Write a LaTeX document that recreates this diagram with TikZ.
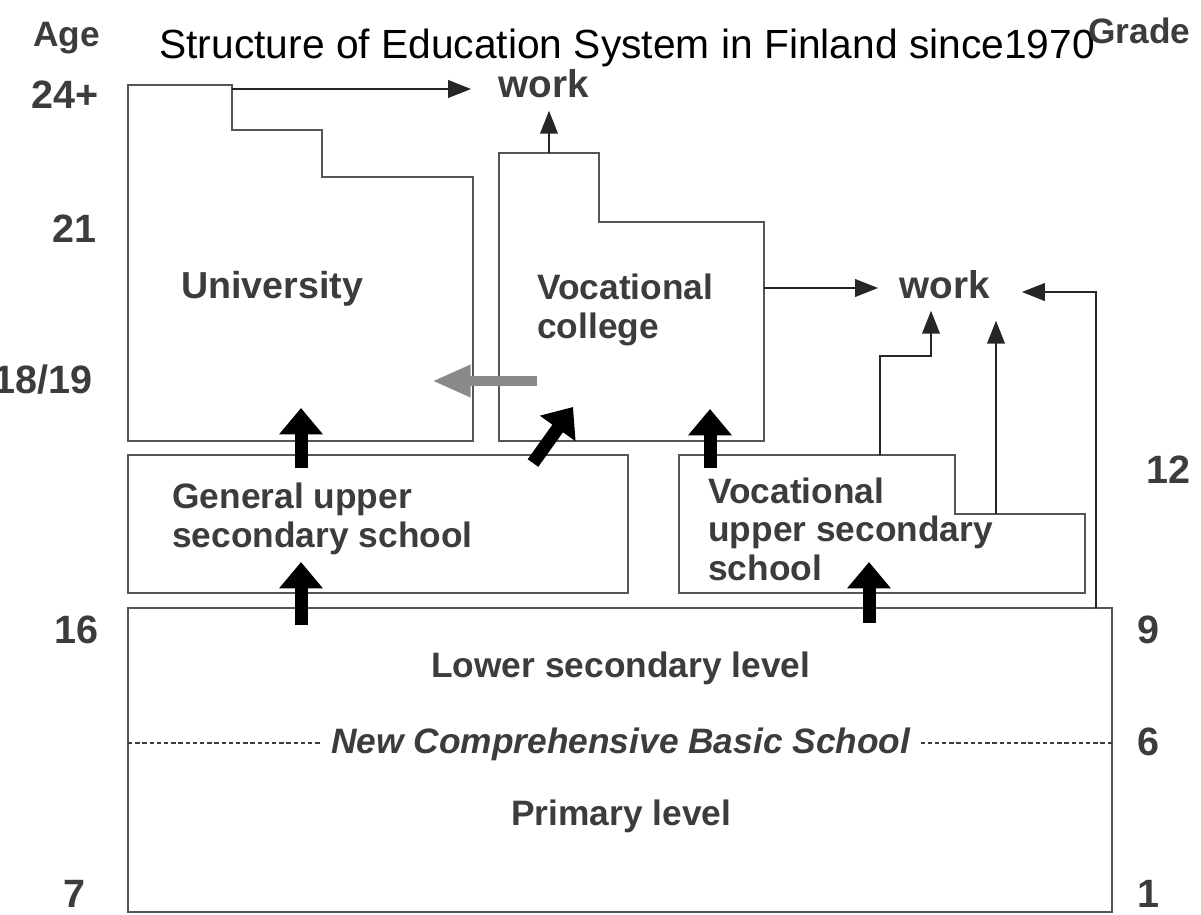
\documentclass[tikz,border=0pt]{standalone}
\usepackage{fontspec}
\setmainfont{Liberation Sans}
\usetikzlibrary{arrows.meta}

\definecolor{boxgray}{HTML}{555555}
\definecolor{txtgray}{HTML}{3C3C3C}
\definecolor{backgray}{HTML}{8A8A8A}

\begin{document}
\begin{tikzpicture}[x=0.02cm, y=-0.02cm,
    level/.style={draw=boxgray, line width=1.2pt},
    lbl/.style={inner sep=0pt, text=txtgray, align=left,
      font=\bfseries\fontsize{20.1}{21.8}\selectfont},
    num/.style={inner sep=0pt, text=txtgray,
      font=\bfseries\fontsize{22.5}{24}\selectfont},
    thinarrow/.style={draw=black!85, line width=1.1pt,
      -{Triangle[width=10pt,length=13pt]}},
    blockarrow/.style={draw=black, line width=7.4pt,
      -{Triangle[width=24pt,length=15pt]}},
    grayarrow/.style={draw=backgray, line width=5.7pt,
      -{Triangle[width=17pt,length=22pt]}},
    dashline/.style={draw=txtgray, line width=0.6pt,
      dash pattern=on 2.5pt off 1.6pt}]
  \useasboundingbox (0,0) rectangle (1201,914);

  % school levels, coordinates in pixels of the chart
  \draw[level] (128,85) -- (232,85) -- (232,130) -- (322,130) -- (322,177)
    -- (473,177) -- (473,441) -- (128,441) -- cycle;
  \draw[level] (499,153) -- (599,153) -- (599,222) -- (764,222)
    -- (764,441) -- (499,441) -- cycle;
  \draw[level] (128,455) rectangle (628,593);
  \draw[level] (679,455) -- (955,455) -- (955,514) -- (1085,514)
    -- (1085,593) -- (679,593) -- cycle;
  \draw[level] (128,608) rectangle (1112,912);

  % texts
  \node[anchor=base west, inner sep=0pt, font=\fontsize{23.2}{28}\selectfont]
    (title) at (159,58) {Structure of Education System in Finland since1970};
  \node[lbl, anchor=base west] (age) at (33,46) {Age};
  \node[lbl, anchor=base west] (grade) at (1088,43) {Grade};
  \node[num, anchor=base west] (a24) at (31,108) {24+};
  \node[num, anchor=base west] (a21) at (52,242) {21};
  \node[num, anchor=base east] (a18) at (93,393) {18/19};
  \node[num, anchor=base west] (a16) at (54,643) {16};
  \node[num, anchor=base west] (a7) at (63,907) {7};
  \node[num, anchor=base west] (g12) at (1146,483) {12};
  \node[num, anchor=base west] (g9) at (1137,643) {9};
  \node[num, anchor=base west] (g6) at (1137,755) {6};
  \node[num, anchor=base west] (g1) at (1137,907) {1};

  \node[lbl, anchor=base west, font=\bfseries\fontsize{22}{24}\selectfont]
    (work1) at (498,97) {work};
  \node[lbl, anchor=base west, font=\bfseries\fontsize{22}{24}\selectfont]
    (work2) at (899,298) {work};
  \node[lbl, anchor=base west, font=\bfseries\fontsize{21.4}{24}\selectfont]
    (uni) at (181,298) {University};
  \node[lbl, anchor=base west] (col) at (537,338) {Vocational\\college};
  \node[lbl, anchor=base west] (gus) at (172,547) {General upper\\secondary school};
  \node[lbl, anchor=base west] (vus) at (708,580) {Vocational\\upper secondary\\school};
  \node[lbl, anchor=base west] (lower) at (431,677) {Lower secondary level};
  \node[lbl, anchor=base west, font=\bfseries\itshape\fontsize{20.1}{21.8}\selectfont]
    (nbs) at (331,753) {New Comprehensive Basic School};
  \node[lbl, anchor=base west] (prim) at (511,825) {Primary level};

  % ends of the connectors
  \coordinate (uniTop) at (232,89);
  \coordinate (colTop) at (549,153);
  \coordinate (colRight) at (764,288);
  \coordinate (basicCorner) at (1096,608);
  \coordinate (gradeTurn) at (1096,292);
  \coordinate (vusA) at (880,455);
  \coordinate (vusAturn) at (931,356);
  \coordinate (vusB) at (996,514);
  \coordinate (basicL) at (128,743);
  \coordinate (basicR) at (1112,743);

  \draw[thinarrow, shorten >=0.54cm] (uniTop) -- (uniTop -| work1.west);
  \draw[thinarrow, shorten >=0.26cm] (colTop) -- (colTop |- work1.south);
  \draw[thinarrow, shorten >=0.42cm] (colRight) -- (colRight -| work2.west);
  \draw[thinarrow, shorten >=0.64cm] (basicCorner) -- (gradeTurn)
    -- (gradeTurn -| work2.east);
  \draw[thinarrow, shorten >=0.24cm] (vusA) |- (vusAturn)
    -- (vusAturn |- work2.south);
  \draw[thinarrow, shorten >=0.44cm] (vusB) -- (vusB |- work2.south);

  % thick arrows between the levels
  \coordinate (genOutUni) at (301,468);
  \coordinate (uniIn) at (301,408);
  \coordinate (basicOutGen) at (301,625);
  \coordinate (genIn) at (301,562);
  \coordinate (genOutCol) at (533,463);
  \coordinate (colInGen) at (573,407);
  \coordinate (vusOutCol) at (710,468);
  \coordinate (colInVus) at (710,409);
  \coordinate (basicOutVus) at (869,623);
  \coordinate (vusIn) at (869,562);
  \coordinate (colOutUni) at (537,381);
  \coordinate (uniInCol) at (432,381);

  \draw[blockarrow] (genOutUni) -- (uniIn);
  \draw[blockarrow] (basicOutGen) -- (genIn);
  \draw[blockarrow] (genOutCol) -- (colInGen);
  \draw[blockarrow] (vusOutCol) -- (colInVus);
  \draw[blockarrow] (basicOutVus) -- (vusIn);
  \draw[grayarrow] (colOutUni) -- (uniInCol);

  % dashed border of the two stages
  \draw[dashline, shorten >=0.18cm] (basicL) -- (basicL -| nbs.west);
  \draw[dashline, shorten >=0.2cm] (basicR) -- (basicR -| nbs.east);
\end{tikzpicture}
\end{document}
